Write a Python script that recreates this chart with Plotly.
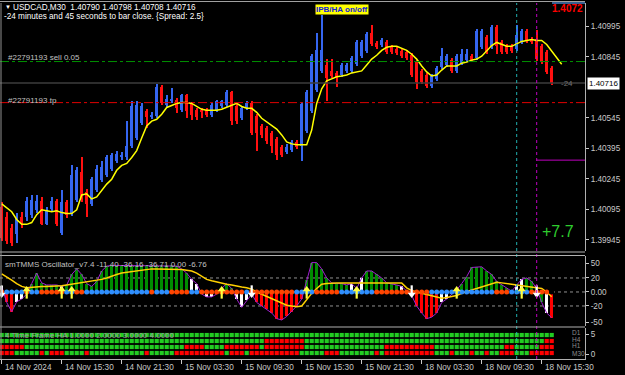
import plotly.graph_objects as go

# ---------------- data ----------------
bar_open = [1.40108,1.40059,1.40001,1.39972,1.40059,1.40059,1.40069,1.40093,1.40137,1.40025,
            1.40098,1.40137,1.39977,1.40132,1.40074,1.40142,1.40277,1.40180,1.40122,1.40190,
            1.40238,1.40263,1.40292,1.40335,1.40350,1.40350,1.40408,1.40446,1.40519,1.40577,
            1.40548,1.40553,1.40698,1.40606,1.40626,1.40635,1.40582,1.40655,1.40611,1.40582,
            1.40582,1.40582,1.40558,1.40582,1.40601,1.40606,1.40674,1.40601,1.40543,1.40592,
            1.40616,1.40553,1.40505,1.40495,1.40471,1.40442,1.40403,1.40379,1.40388,1.40427,
            1.40408,1.40480,1.40577,1.40684,1.40776,1.40805,1.40776,1.40766,1.40756,1.40776,
            1.40776,1.40809,1.40848,1.40872,1.40964,1.40911,1.40901,1.40916,1.40892,1.40882,
            1.40872,1.40868,1.40853,1.40819,1.40776,1.40756,1.40703,1.40737,1.40795,1.40805,
            1.40829,1.40776,1.40814,1.40829,1.40848,1.40838,1.40892,1.40945,1.40892,1.40993,
            1.40916,1.40897,1.40897,1.40882,1.40916,1.40974,1.40935,1.40935,1.40897,1.40868,
            1.40790]
bar_high = [1.40132,1.40083,1.40021,1.40079,1.40083,1.40156,1.40166,1.40166,1.40156,1.40108,
            1.40156,1.40146,1.40190,1.40142,1.40311,1.40301,1.40350,1.40195,1.40253,1.40311,
            1.40335,1.40364,1.40374,1.40384,1.40379,1.40529,1.40630,1.40630,1.40616,1.40587,
            1.40572,1.40713,1.40708,1.40655,1.40693,1.40645,1.40664,1.40664,1.40621,1.40592,
            1.40592,1.40592,1.40616,1.40635,1.40635,1.40684,1.40679,1.40611,1.40601,1.40626,
            1.40626,1.40563,1.40514,1.40505,1.40480,1.40451,1.40413,1.40417,1.40437,1.40437,
            1.40621,1.40684,1.40858,1.40964,1.41051,1.40834,1.40834,1.40776,1.40814,1.40814,
            1.40848,1.40926,1.40926,1.40969,1.41003,1.40921,1.40940,1.40926,1.40901,1.40892,
            1.40882,1.40877,1.40863,1.40829,1.40785,1.40766,1.40761,1.40800,1.40887,1.40858,
            1.40838,1.40858,1.40882,1.40882,1.40858,1.40984,1.40984,1.40955,1.41003,1.41003,
            1.40926,1.40906,1.40906,1.41003,1.40984,1.40984,1.40945,1.40979,1.40906,1.40877,
            1.40798]
bar_low = [1.39938,1.39924,1.39914,1.39929,1.40001,1.40040,1.40054,1.40079,1.40016,1.40016,
           1.40083,1.40011,1.39967,1.40054,1.40064,1.40132,1.40132,1.40059,1.40112,1.40180,
           1.40229,1.40253,1.40282,1.40325,1.40340,1.40340,1.40398,1.40437,1.40509,1.40495,
           1.40538,1.40543,1.40606,1.40596,1.40616,1.40567,1.40572,1.40543,1.40534,1.40534,
           1.40543,1.40548,1.40548,1.40572,1.40592,1.40596,1.40509,1.40514,1.40534,1.40582,
           1.40461,1.40384,1.40446,1.40417,1.40374,1.40340,1.40350,1.40369,1.40379,1.40393,
           1.40335,1.40471,1.40567,1.40674,1.40766,1.40630,1.40742,1.40698,1.40747,1.40766,
           1.40766,1.40800,1.40838,1.40863,1.40897,1.40882,1.40892,1.40858,1.40858,1.40853,
           1.40838,1.40829,1.40747,1.40688,1.40713,1.40693,1.40693,1.40727,1.40785,1.40795,
           1.40766,1.40766,1.40805,1.40819,1.40819,1.40829,1.40882,1.40858,1.40882,1.40858,
           1.40858,1.40858,1.40863,1.40872,1.40906,1.40911,1.40906,1.40824,1.40809,1.40761,
           1.40708]
bar_close = [1.39953,1.39938,1.39929,1.40059,1.40021,1.40137,1.40142,1.40137,1.40025,1.40093,
             1.40137,1.40025,1.40132,1.40069,1.40263,1.40287,1.40142,1.40122,1.40243,1.40292,
             1.40301,1.40350,1.40364,1.40369,1.40364,1.40408,1.40601,1.40606,1.40601,1.40548,
             1.40558,1.40698,1.40616,1.40640,1.40640,1.40592,1.40655,1.40577,1.40558,1.40548,
             1.40572,1.40558,1.40606,1.40626,1.40626,1.40674,1.40529,1.40529,1.40592,1.40616,
             1.40471,1.40471,1.40461,1.40432,1.40408,1.40364,1.40364,1.40403,1.40427,1.40403,
             1.40611,1.40674,1.40848,1.40877,1.40877,1.40742,1.40751,1.40747,1.40805,1.40805,
             1.40838,1.40916,1.40916,1.40959,1.40906,1.40892,1.40930,1.40868,1.40868,1.40863,
             1.40848,1.40838,1.40756,1.40722,1.40722,1.40703,1.40751,1.40790,1.40848,1.40848,
             1.40776,1.40848,1.40858,1.40858,1.40829,1.40974,1.40974,1.40868,1.40993,1.40897,
             1.40868,1.40868,1.40872,1.40955,1.40974,1.40921,1.40916,1.40834,1.40819,1.40771,
             1.40716]
ma_line = [1.40122,1.40103,1.40083,1.40045,1.40021,1.40021,1.40030,1.40069,1.40093,1.40088,
           1.40083,1.40088,1.40079,1.40074,1.40074,1.40093,1.40166,1.40171,1.40146,1.40156,
           1.40190,1.40219,1.40243,1.40287,1.40311,1.40321,1.40350,1.40384,1.40446,1.40505,
           1.40529,1.40538,1.40563,1.40596,1.40606,1.40616,1.40621,1.40621,1.40616,1.40601,
           1.40587,1.40582,1.40582,1.40582,1.40587,1.40596,1.40606,1.40616,1.40601,1.40592,
           1.40592,1.40572,1.40543,1.40524,1.40509,1.40490,1.40461,1.40427,1.40417,1.40413,
           1.40413,1.40413,1.40485,1.40616,1.40688,1.40727,1.40737,1.40747,1.40751,1.40756,
           1.40766,1.40771,1.40776,1.40805,1.40834,1.40853,1.40877,1.40892,1.40897,1.40897,
           1.40887,1.40877,1.40858,1.40834,1.40800,1.40771,1.40751,1.40756,1.40780,1.40800,
           1.40800,1.40800,1.40814,1.40819,1.40829,1.40834,1.40848,1.40877,1.40901,1.40916,
           1.40906,1.40897,1.40897,1.40911,1.40921,1.40926,1.40930,1.40926,1.40926,1.40906,
           1.40872,1.40843,1.40809]

price_ticks = [1.40995, 1.40845, 1.40545, 1.40395, 1.40245, 1.40095, 1.39945]
current_price = 1.40716
sell_level = 1.40822
tp_level = 1.40620
magenta_level = 1.40337

x_tick_bars = [0, 12, 24, 36, 48, 60, 72, 84, 96, 108]
x_tick_labels = ["14 Nov 2024", "14 Nov 15:30", "14 Nov 21:30", "15 Nov 03:30", "15 Nov 09:30",
                 "15 Nov 15:30", "15 Nov 21:30", "18 Nov 03:30", "18 Nov 09:30", "18 Nov 15:30"]

osc_hist = [8,-15,-28,-14,-10,-3,12,27,13,10,
            10,10,8,10,25,33,25,12,8,15,
            30,37,38,38,38,38,38,38,38,38,
            38,38,38,38,38,37,33,27,18,12,
            -3,-7,-7,-3,5,12,5,-10,-22,-12,
            -3,-15,-20,-25,-30,-38,-40,-35,-28,-20,
            -10,17,42,42,33,20,13,12,12,10,
            12,5,20,30,30,25,20,13,12,10,
            8,2,-5,-20,-30,-38,-36,-30,-15,-10,
            -3,3,12,22,35,36,36,30,25,15,
            10,5,1,10,18,20,15,5,-15,-30,
            -36.7]
osc_col = "wrrwwwggggggwgggggggggggggggggggggggggwwwwwwgggwwwwrrrrrrrrrrgggggggggwwwgggggggwwwrrrrrwwrrggggggggggwwwggggwrrr"
osc_signal = [26,22,17,12,8,6,7,8,8,8,
              8,9,9,10,11,12,13,14,15,16,
              18,20,23,25,27,28,30,31,32,33,
              33,33,33,33,33,33,32,31,30,27,
              22,18,16,14,12,11,10,8,7,6,
              4,0,-3,-6,-10,-13,-16,-19,-20,-21,
              -20,-11,-2,5,11,12,13,13,13,13,
              13,13,13,13,13,13,13,13,13,13,
              13,6,2,0,-2,-4,-6,-8,-9,-8,
              -7,-5,-2,1,3,5,7,10,12,14,
              13,12,11,10,9,9,8,7,5,0,
              -6.8]
zero_dots = "obbbbobbooooobboobbbbbbbbbbbbbobbboooobbooooooooobooooooooobbbbooooobbbbbbbooooooooooobbbbbbbbbbbbbooobbbboooo"
arrows_up = [5, 12, 14, 44, 61, 71, 91, 104]
arrows_down = [0, 50, 82, 107]

# multi timeframe HA rows (run-length: colour, count)
ha_rows = {
    "D1":  [("g", 111)],
    "H4":  [("g", 53), ("r", 8), ("g", 48), ("r", 2)],
    "H1":  [("r", 5), ("g", 32), ("r", 4), ("g", 4), ("r", 7), ("g", 1), ("r", 8), ("g", 16),
            ("r", 10), ("g", 14), ("r", 2), ("g", 5), ("r", 3)],
    "M30": [("r", 3), ("g", 5), ("r", 1), ("g", 1), ("r", 3), ("g", 4), ("r", 1), ("g", 11), ("r", 1),
            ("g", 5), ("r", 10), ("g", 1), ("r", 3), ("g", 1), ("r", 10), ("g", 5), ("r", 3), ("g", 7),
            ("r", 1), ("g", 1), ("r", 10), ("g", 3), ("r", 1), ("g", 3), ("r", 1), ("g", 2), ("r", 1),
            ("g", 2), ("r", 3), ("g", 3), ("r", 5)],
}
ha_levels = {"D1": 4, "H4": 3, "H1": 2, "M30": 1}

# ---------------- figure ----------------
W, H = 625, 375
ML, MR, MT, MB = 0, 40, 3, 16
PW, PH = W - ML - MR, H - MT - MB


def px(x):
    return (x - ML) / PW


def py(y):
    return (H - MB - y) / PH


N = len(bar_open)
idx = list(range(N))
BLUE = "#3566f0"
RED = "#ff1010"
is_up = [c >= o for o, c in zip(bar_open, bar_close)]
cols = [BLUE if u else RED for u in is_up]

fig = go.Figure()

# wicks
fig.add_trace(go.Bar(x=idx, y=[h - l for h, l in zip(bar_high, bar_low)], base=bar_low,
                     width=0.24, marker=dict(color=cols, line_width=0), hoverinfo="skip",
                     xaxis="x", yaxis="y"))
# bodies
fig.add_trace(go.Bar(x=idx, y=[max(abs(c - o), 0.00003) for o, c in zip(bar_open, bar_close)],
                     base=[min(o, c) for o, c in zip(bar_open, bar_close)],
                     width=0.66, marker=dict(color=cols, line_width=0), hoverinfo="skip",
                     xaxis="x", yaxis="y"))
# moving average
fig.add_trace(go.Scatter(x=list(range(len(ma_line))), y=ma_line, mode="lines",
                         line=dict(color="#ffff00", width=1.5), xaxis="x", yaxis="y"))

# oscillator
cmap = {"g": "#008c00", "r": "#ff0000", "w": "#ffffff"}
fig.add_trace(go.Bar(x=idx, y=osc_hist, width=0.6,
                     marker=dict(color=[cmap[c] for c in osc_col], line_width=0),
                     xaxis="x", yaxis="y2"))
fig.add_trace(go.Scatter(x=idx, y=osc_hist, mode="lines", line=dict(color="#a020d0", width=1),
                         xaxis="x", yaxis="y2"))
fig.add_trace(go.Scatter(x=idx, y=osc_signal, mode="lines", line=dict(color="#ffd000", width=1.5),
                         xaxis="x", yaxis="y2"))
dmap = {"b": "#2f8fff", "o": "#ff4500"}
fig.add_trace(go.Scatter(x=idx, y=[0] * N, mode="markers",
                         marker=dict(size=5, color=[dmap[c] for c in zero_dots], line_width=0),
                         xaxis="x", yaxis="y2"))
# arrows: head + stem markers
for xs, col, head, hy, sy in [(arrows_up, "#ffff40", "triangle-up", 3.5, -2.5),
                              (arrows_down, "#ffffff", "triangle-down", -3.5, 2.5)]:
    fig.add_trace(go.Scatter(x=xs, y=[sy] * len(xs), mode="markers",
                             marker=dict(symbol="line-ns", size=7, line=dict(color=col, width=2.2)),
                             xaxis="x", yaxis="y2"))
    fig.add_trace(go.Scatter(x=xs, y=[hy] * len(xs), mode="markers",
                             marker=dict(symbol=head, size=7, color=col, line_width=0),
                             xaxis="x", yaxis="y2"))

# HA panel
hmap = {"g": "#22cc22", "r": "#ff0000"}
for name, runs in ha_rows.items():
    seq = "".join(c * n for c, n in runs)
    fig.add_trace(go.Scatter(x=idx, y=[ha_levels[name]] * len(seq), mode="markers",
                             marker=dict(symbol="square", size=4.2, color=[hmap[c] for c in seq],
                                         line_width=0),
                             xaxis="x", yaxis="y3"))

FONT = "Liberation Sans, Arial, sans-serif"
AX = "#c8c8c8"

shapes = []
# horizontal order lines
shapes.append(dict(type="line", xref="paper", x0=0, x1=1, yref="y", y0=sell_level, y1=sell_level,
                   line=dict(color="#009000", width=1, dash="dashdot")))
shapes.append(dict(type="line", xref="paper", x0=0, x1=1, yref="y", y0=tp_level, y1=tp_level,
                   line=dict(color="#e00000", width=1, dash="dashdot")))
shapes.append(dict(type="line", xref="paper", x0=0, x1=1, yref="y", y0=current_price, y1=current_price,
                   line=dict(color="#3c3c3c", width=1.5)))
shapes.append(dict(type="line", xref="x", x0=107, x1=116.7, yref="y", y0=magenta_level, y1=magenta_level,
                   line=dict(color="#c000c0", width=1)))
# oscillator levels
for lv in [20, 0, -20]:
    shapes.append(dict(type="line", xref="paper", x0=0, x1=1, yref="y2", y0=lv, y1=lv,
                       line=dict(color="#909090", width=1, dash="dot"), layer="below"))
# vertical time markers
shapes.append(dict(type="line", xref="x", x0=103, x1=103, yref="paper", y0=0, y1=1.0,
                   line=dict(color="#20b0b0", width=1, dash="dot")))
shapes.append(dict(type="line", xref="x", x0=107, x1=107, yref="paper", y0=0, y1=1.0,
                   line=dict(color="#c000c0", width=1, dash="dot")))
# panel separators / borders
for yy in [252, 255.5, 327]:
    shapes.append(dict(type="line", xref="paper", x0=0, x1=px(585), yref="paper", y0=py(yy), y1=py(yy),
                       line=dict(color="#b0b0b0", width=1.2)))
shapes.append(dict(type="line", xref="paper", x0=px(1), x1=px(1), yref="paper", y0=0, y1=1,
                   line=dict(color="#909090", width=1)))
shapes.append(dict(type="line", xref="paper", x0=0, x1=px(585), yref="paper", y0=py(1.5), y1=py(1.5),
                   line=dict(color="#a0a0a0", width=1)))
shapes.append(dict(type="line", xref="paper", x0=px(552), x1=px(585), yref="paper", y0=py(3), y1=py(3),
                   line=dict(color="#4a7fc0", width=1.5)))

ann = []


def text(x, y, s, size=8, color="#ffffff", anchor="left", **kw):
    ann.append(dict(x=px(x), y=py(y), xref="paper", yref="paper", text=s, showarrow=False,
                    xanchor=anchor, yanchor="middle", font=dict(family=FONT, size=size, color=color), **kw))


text(3, 7, "▼", size=6)
text(11, 7.5, "USDCAD,M30  1.40790 1.40798 1.40708 1.40716", size=8.2)
text(2, 16, "-24 minutes and 45 seconds to bar close. {Spread: 2.5}", size=8.2)
text(315, 9, "<b>IPB/HA on/off</b>", size=8, color="#1020e0", bgcolor="#ffff00", borderpad=0)
text(585, 8.5, "<b>1.4072</b>", size=10, color="#ff0000", anchor="right")
text(6, 57, "#22791193 sell 0.05", size=8, color="#c0c0c0")
text(6, 100, "#22791193 tp", size=8, color="#c0c0c0")
text(575, 84, "-24", size=8, color="#707070", anchor="right")
text(587, 84, "1.40716", size=8, color="#000000", bgcolor="#ffffff", borderpad=1)
text(540, 231, "+7.7", size=16, color="#2ecc2e")
text(3, 264, "smTMMS Oscillator_v7.4 -11.40 -36.16 -36.71 0.00 -6.76", size=8, color="#c0c0c0")
text(3, 335, "4 Time Frame HA 1.0000 2.0000 3.0000 4.0000", size=8, color="#9a9a9a")
for lab, yy in [("D1", 332.5), ("H4", 339), ("H1", 345.5), ("M30", 353)]:
    text(570, yy, lab, size=6.5, color="#8c8c8c")
for b, lab in zip(x_tick_bars, x_tick_labels):
    ann.append(dict(x=b, y=py(367), xref="x", yref="paper", text=lab, showarrow=False,
                    xanchor="left", yanchor="middle", xshift=1,
                    font=dict(family=FONT, size=8.2, color=AX)))

fig.update_layout(
    width=W, height=H, margin=dict(l=ML, r=MR, t=MT, b=MB),
    paper_bgcolor="#000000", plot_bgcolor="#000000",
    showlegend=False, barmode="overlay", bargap=0,
    font=dict(family=FONT, size=8, color=AX),
    shapes=shapes, annotations=ann,
    xaxis=dict(range=[-0.34, 116.66], showgrid=False, zeroline=False, anchor="y3",
               tickvals=x_tick_bars, showticklabels=False, ticks="outside", ticklen=4,
               tickcolor=AX, showline=True, linecolor="#b0b0b0", linewidth=1),
    yaxis=dict(domain=[py(251), 1], range=[1.39890, 1.41110], side="right", anchor="x",
               showgrid=False, zeroline=False, tickvals=price_ticks,
               ticktext=[f"{v:.5f}" for v in price_ticks], ticks="outside", ticklen=3,
               tickcolor=AX, tickfont=dict(size=8.2, color=AX),
               showline=True, linecolor="#b0b0b0", linewidth=1),
    yaxis2=dict(domain=[py(326), py(256)], range=[-48.6, 51.4], side="right", anchor="x",
                showgrid=False, zeroline=False, tickvals=[41.4, 20, 0, -20, -42.9],
                ticktext=["50", "20", "0.00", "-20", "-50"], ticks="outside", ticklen=3,
                tickcolor=AX, tickfont=dict(size=8.2, color=AX),
                showline=True, linecolor="#b0b0b0", linewidth=1),
    yaxis3=dict(domain=[0, py(328)], range=[0, 5.17], side="right", anchor="x",
                showgrid=False, zeroline=False, tickvals=[4.17, 0.83], ticktext=["5", "0"],
                ticks="outside", ticklen=3, tickcolor=AX, tickfont=dict(size=8.2, color=AX),
                showline=True, linecolor="#b0b0b0", linewidth=1),
)

fig.write_html("out.html")
